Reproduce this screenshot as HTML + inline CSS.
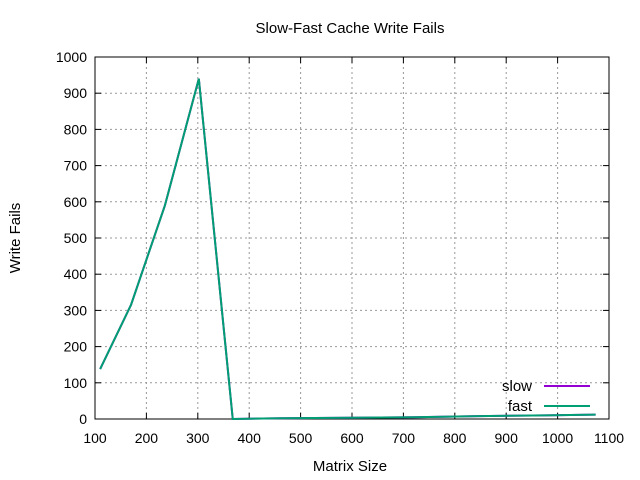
<!DOCTYPE html>
<html><head><meta charset="utf-8"><style>body{margin:0;background:#fff}svg{display:block;font-family:"Liberation Sans",sans-serif}</style></head>
<body>
<svg id="c" width="640" height="480"></svg>
<script>
const xs=[110,170,236,302,368,462,719,847,975,1074];
const slow=[138,315,590,940,0,2,5,8,10,12];
const fast=[138,315,590,940,0,2,5,8,10,12];
const xticks=[100,200,300,400,500,600,700,800,900,1000,1100];
const yticks=[0,100,200,300,400,500,600,700,800,900,1000];
const L=95,R=609,T=57,B=419;
const X=v=>L+(v-100)/1000*(R-L), Y=v=>B-v/1000*(B-T);
const s=document.getElementById('c'),NS='http://www.w3.org/2000/svg';
function e(t,a,p){const n=document.createElementNS(NS,t);for(const k in a)n.setAttribute(k,a[k]);(p||s).appendChild(n);return n;}
yticks.forEach(v=>{const y=Y(v);
if(v>0&&v<1000){const g=e('line',{x1:L,x2:R,y1:y,y2:y,stroke:'#999','stroke-dasharray':'2,3'});}
e('line',{x1:L,x2:L+6,y1:y,y2:y,stroke:'#000'});e('line',{x1:R,x2:R-6,y1:y,y2:y,stroke:'#000'});
const t=e('text',{x:L-8,y:y+5,'text-anchor':'end','font-size':14});t.textContent=v;
});
xticks.forEach(v=>{const x=X(v);
if(v>100&&v<1100){const g=e('line',{x1:x,x2:x,y1:T,y2:B,stroke:'#999','stroke-dasharray':'2,3'});}
e('line',{x1:x,x2:x,y1:B,y2:B-6,stroke:'#000'});e('line',{x1:x,x2:x,y1:T,y2:T+6,stroke:'#000'});
const t=e('text',{x:x,y:B+24,'text-anchor':'middle','font-size':14});t.textContent=v;
});
const fr=e('rect',{x:L,y:T,width:R-L,height:B-T,fill:'none',stroke:'#000'});

function line(vals,col,name){const p=e('polyline',{points:xs.map((x,i)=>X(x)+','+Y(vals[i])).join(' '),fill:'none',stroke:col,'stroke-width':2});
}
line(slow,'#9400d3','slow-line');line(fast,'#009e73','fast-line');
const ti=e('text',{x:350,y:33,'text-anchor':'middle','font-size':15});ti.textContent='Slow-Fast Cache Write Fails';

const xl=e('text',{x:350,y:471,'text-anchor':'middle','font-size':15});xl.textContent='Matrix Size';

const yl=e('text',{x:20,y:238,'text-anchor':'middle','font-size':15,transform:'rotate(-90 20 238)'});yl.textContent='Write Fails';

[['slow','#9400d3',386],['fast','#009e73',406]].forEach(([n,c,y])=>{
const t=e('text',{x:532,y:y+5,'text-anchor':'end','font-size':15});t.textContent=n;

const l=e('line',{x1:544,x2:590,y1:y,y2:y,stroke:c,'stroke-width':2});
});
</script>
</body></html>
